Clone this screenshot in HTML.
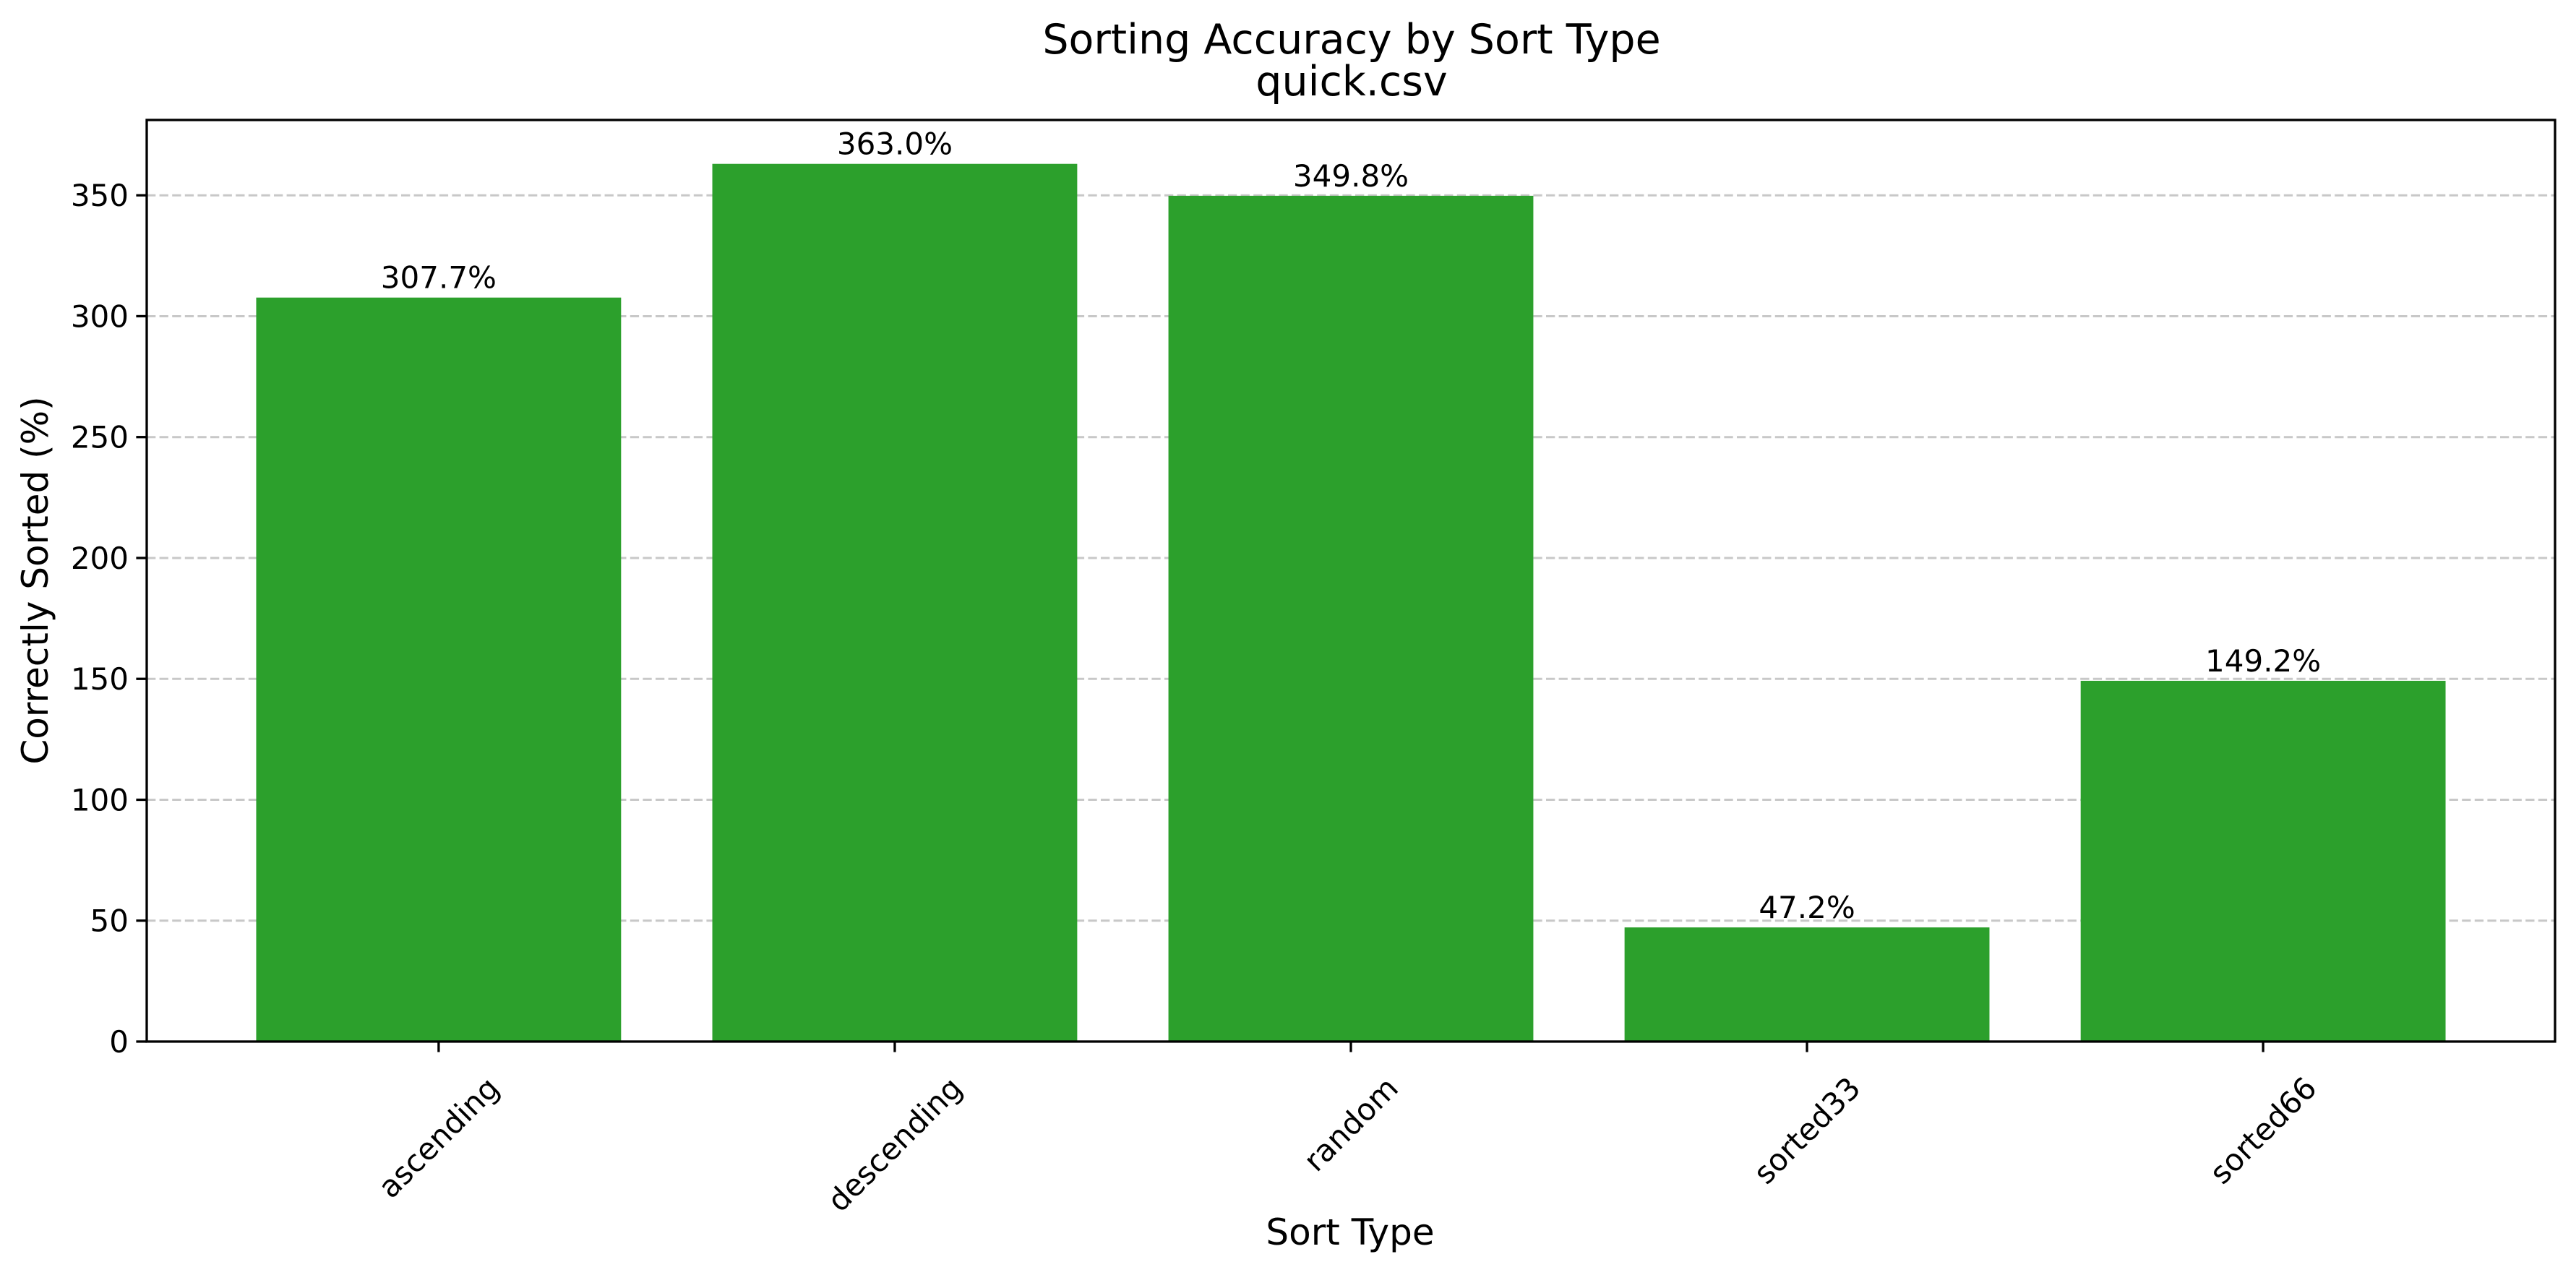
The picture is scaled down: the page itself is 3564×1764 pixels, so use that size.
<!DOCTYPE html>
<html><head><meta charset="utf-8"><style>
html,body{margin:0;padding:0;background:#fff;}
svg{display:block;font-family:"DejaVu Sans","Liberation Sans",sans-serif;}
</style></head><body>
<svg id="chart" width="3564" height="1764" viewBox="0 0 3564 1764" xmlns="http://www.w3.org/2000/svg">
<rect width="3564" height="1764" fill="#fff"/>
<text x="1870" y="74" font-size="57" text-anchor="middle">Sorting Accuracy by Sort Type</text>
<text x="1870" y="132" font-size="57" text-anchor="middle">quick.csv</text>
<g id="grid"></g>
<g id="bars"></g>
<g id="axes"></g>
<text x="1868" y="1722" font-size="50" text-anchor="middle">Sort Type</text>
<text transform="translate(66,803) rotate(-90)" font-size="50" text-anchor="middle">Correctly Sorted (%)</text>
</svg>
<script>
const categories = ["ascending","descending","random","sorted33","sorted66"];
const values = [307.7, 363.0, 349.8, 47.2, 149.2];
const yTicks = [0,50,100,150,200,250,300,350];
const valueLabels = ["307.7%","363.0%","349.8%","47.2%","149.2%"];

const NS="http://www.w3.org/2000/svg";
const L=203,R=3535,T=166,B=1441;
const xmin=-0.64,xmax=categories.length-1+0.64;
const ymax=Math.max(...values)*1.05;
const xs=i=>L+(i-xmin)/(xmax-xmin)*(R-L);
const ys=v=>B-v/ymax*(B-T);
function mk(tag,attrs,parent){const e=document.createElementNS(NS,tag);for(const k in attrs)e.setAttribute(k,attrs[k]);parent.appendChild(e);return e;}
const grid=document.getElementById('grid'),bars=document.getElementById('bars'),axes=document.getElementById('axes');

yTicks.forEach(v=>{
  const y=ys(v);
  const g=mk('line',{x1:L,x2:R,y1:y,y2:y,stroke:'#b0b0b0','stroke-width':3,'stroke-dasharray':'12.3 5.3','stroke-opacity':0.7},grid);
  
  
  const t=mk('line',{x1:L-14.6,x2:L,y1:y,y2:y,stroke:'#000','stroke-width':3.3},axes);
  
  
  const tl=mk('text',{x:L-25,y:y+15,'font-size':42,'text-anchor':'end'},axes);
  tl.textContent=v;
  
  
});

const bw=0.8*(xs(1)-xs(0));
categories.forEach((c,i)=>{
  const cx=xs(i),top=ys(values[i]);
  const r=mk('rect',{x:cx-bw/2,y:top,width:bw,height:B-top,fill:'#2ca02c'},bars);
  
  
  const vl=mk('text',{x:cx,y:top-13,'font-size':42,'text-anchor':'middle'},bars);
  vl.textContent=valueLabels[i];
  
  
  const tk=mk('line',{x1:cx,x2:cx,y1:B,y2:B+14.6,stroke:'#000','stroke-width':3.3},axes);
  
  
  const xl=mk('text',{x:0,y:0,'font-size':42,'text-anchor':'middle','dominant-baseline':'central'},axes);
  xl.textContent=c;
  
  
  const len=xl.getComputedTextLength();
  const half=(len+42)*Math.SQRT1_2/2;
  xl.setAttribute('transform','translate('+cx+','+(B+42+half)+') rotate(-45)');
});

const frame=mk('rect',{x:L,y:T,width:R-L,height:B-T,fill:'none',stroke:'#000','stroke-width':3.3},axes);


</script>
</body></html>
